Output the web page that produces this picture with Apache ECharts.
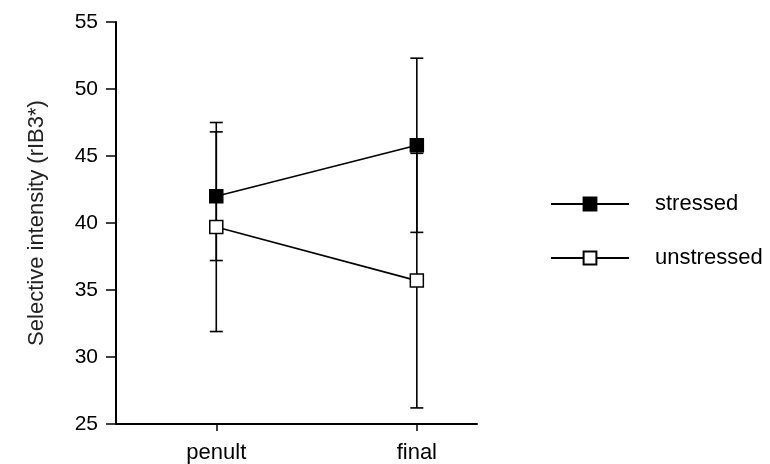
<!DOCTYPE html>
<html>
<head>
<meta charset="utf-8">
<script src="https://cdn.jsdelivr.net/npm/echarts@6/dist/echarts.min.js"></script>
<style>
  html, body { margin: 0; padding: 0; background: #fff; }
  #chart { width: 770px; height: 464px; }
</style>
</head>
<body>
<div id="chart"></div>
<script>
// Positions: penult = 1, final = 3 on the x scale
const categories = ['penult', 'final'];
const categoryX = [1, 3];

const stressedMean = [42.0, 45.8];
const stressedLow = [37.2, 39.3];
const stressedHigh = [46.8, 52.3];

const unstressedMean = [39.7, 35.7];
const unstressedLow = [31.9, 26.2];
const unstressedHigh = [47.5, 45.2];

const yTicks = [25, 30, 35, 40, 45, 50, 55];

const font = 'Arial, "Liberation Sans", sans-serif';

function pointsOf(means) {
  return means.map((v, i) => [categoryX[i], v]);
}
function barsOf(lows, highs) {
  return lows.map((lo, i) => [categoryX[i], lo, highs[i]]);
}

// Vertical error bar with horizontal caps at both ends
function renderErrorBar(params, api) {
  const x = api.value(0);
  const lo = api.coord([x, api.value(1)]);
  const hi = api.coord([x, api.value(2)]);
  const half = 6.5;
  const style = { stroke: '#000', lineWidth: 1.6 };
  return {
    type: 'group',
    children: [
      { type: 'line', shape: { x1: lo[0], y1: lo[1], x2: hi[0], y2: hi[1] }, style },
      { type: 'line', shape: { x1: lo[0] - half, y1: lo[1], x2: lo[0] + half, y2: lo[1] }, style },
      { type: 'line', shape: { x1: hi[0] - half, y1: hi[1], x2: hi[0] + half, y2: hi[1] }, style }
    ]
  };
}

const chart = echarts.init(document.getElementById('chart'), null, { renderer: 'canvas' });

chart.setOption({
  animation: false,
  backgroundColor: '#fff',
  grid: { left: 116, right: 293, top: 22, bottom: 40, containLabel: false },
  legend: {
    orient: 'vertical',
    left: 545,
    top: 188,
    itemWidth: 78,
    itemHeight: 16,
    itemGap: 32,
    textStyle: { fontFamily: font, fontSize: 22, lineHeight: 22, color: '#000', padding: [0, 0, 0, 21] },
    data: ['stressed', 'unstressed']
  },
  xAxis: {
    type: 'value',
    min: 0,
    max: 3.6,
    interval: 1,
    splitLine: { show: false },
    axisLine: { show: true, onZero: false, lineStyle: { color: '#000', width: 2 } },
    axisTick: { show: true, length: 7, customValues: categoryX, lineStyle: { color: '#000', width: 1.5 } },
    axisLabel: {
      customValues: categoryX,
      margin: 18,
      fontFamily: font,
      fontSize: 22,
      color: '#000',
      formatter: v => categories[categoryX.indexOf(v)] || ''
    }
  },
  yAxis: {
    type: 'value',
    min: yTicks[0],
    max: yTicks[yTicks.length - 1],
    interval: 5,
    name: 'Selective intensity (rIB3*)',
    nameLocation: 'middle',
    nameGap: 68,
    nameTextStyle: { fontFamily: font, fontSize: 22, color: '#222' },
    splitLine: { show: false },
    axisLine: { show: true, lineStyle: { color: '#000', width: 2 } },
    axisTick: { show: true, length: 10, lineStyle: { color: '#000', width: 1.5 } },
    axisLabel: { margin: 18, fontFamily: font, fontSize: 21, color: '#000' }
  },
  series: [
    {
      name: 'stressed-err',
      type: 'custom',
      renderItem: renderErrorBar,
      data: barsOf(stressedLow, stressedHigh),
      encode: { x: 0, y: [1, 2] },
      z: 1,
      silent: true
    },
    {
      name: 'unstressed-err',
      type: 'custom',
      renderItem: renderErrorBar,
      data: barsOf(unstressedLow, unstressedHigh),
      encode: { x: 0, y: [1, 2] },
      z: 1,
      silent: true
    },
    {
      name: 'stressed',
      type: 'line',
      data: pointsOf(stressedMean),
      symbol: 'rect',
      symbolSize: 13,
      lineStyle: { color: '#000', width: 1.6 },
      itemStyle: { color: '#000', borderColor: '#000', borderWidth: 1.5 },
      z: 3
    },
    {
      name: 'unstressed',
      type: 'line',
      data: pointsOf(unstressedMean),
      symbol: 'rect',
      symbolSize: 13,
      lineStyle: { color: '#000', width: 1.6 },
      itemStyle: { color: '#fff', borderColor: '#000', borderWidth: 1.5 },
      z: 3
    }
  ]
});
</script>
</body>
</html>
